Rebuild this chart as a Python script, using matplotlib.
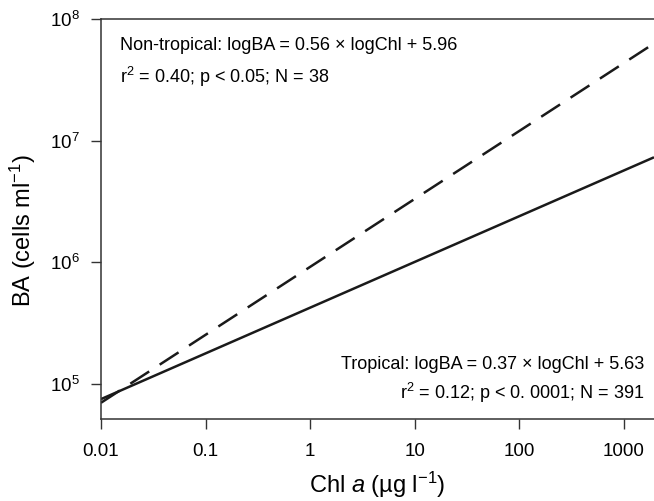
import matplotlib
matplotlib.use("Agg")
import matplotlib.pyplot as plt
from matplotlib.ticker import FixedLocator, FixedFormatter, NullLocator

plt.rcParams["font.family"] = ["Liberation Sans", "DejaVu Sans"]
plt.rcParams["mathtext.fontset"] = "custom"
plt.rcParams["mathtext.rm"] = "Liberation Sans"
plt.rcParams["mathtext.it"] = "Liberation Sans:italic"
plt.rcParams["mathtext.default"] = "regular"

# regression lines, read at the ends of the x range
chl = [0.01, 1950]
ba_tropical = [7.5e4, 7.3e6]
ba_nontropical = [7.0e4, 6.3e7]

x_ticks = [0.01, 0.1, 1, 10, 100, 1000]
x_labels = ["0.01", "0.1", "1", "10", "100", "1000"]
y_ticks = [1e5, 1e6, 1e7, 1e8]
y_labels = ["$10^{5}$", "$10^{6}$", "$10^{7}$", "$10^{8}$"]

fig = plt.figure(figsize=(6.54, 5.01), dpi=100)
ax = fig.add_axes([0.1544, 0.1637, 0.8456, 0.7983])

ax.plot(chl, ba_tropical, color="#1a1a1a", lw=1.8, solid_capstyle="butt")
ax.plot(chl, ba_nontropical, color="#1a1a1a", lw=1.8, dashes=(9, 5))

ax.set_xscale("log")
ax.set_yscale("log")
ax.set_xlim(0.01, 1950)
ax.set_ylim(5.15e4, 1e8)

ax.xaxis.set_major_locator(FixedLocator(x_ticks))
ax.xaxis.set_major_formatter(FixedFormatter(x_labels))
ax.xaxis.set_minor_locator(NullLocator())
ax.yaxis.set_major_locator(FixedLocator(y_ticks))
ax.yaxis.set_major_formatter(FixedFormatter(y_labels))
ax.yaxis.set_minor_locator(NullLocator())

ax.tick_params(axis="both", direction="out", length=7, width=1, color="#333333",
               labelsize=13.5)
ax.tick_params(axis="x", pad=10)
ax.tick_params(axis="y", pad=8)
for side in ["left", "bottom", "top"]:
    ax.spines[side].set_linewidth(1.1)
    ax.spines[side].set_color("#333333")
ax.spines["right"].set_visible(False)

ax.set_xlabel("Chl $\\mathit{a}$ (µg l$^{-1}$)", fontsize=17, labelpad=7)
ax.set_ylabel("BA (cells ml$^{-1}$)", fontsize=17)
ax.yaxis.set_label_coords(-0.113, 0.47)

ax.text(0.034, 0.935, "Non-tropical: logBA = 0.56 × logChl + 5.96", transform=ax.transAxes,
        fontsize=13, ha="left", va="center")
ax.text(0.034, 0.856, "r$^{2}$ = 0.40; p < 0.05; N = 38", transform=ax.transAxes,
        fontsize=13, ha="left", va="center")
ax.text(0.982, 0.135, "Tropical: logBA = 0.37 × logChl + 5.63", transform=ax.transAxes,
        fontsize=13, ha="right", va="center")
ax.text(0.982, 0.065, "r$^{2}$ = 0.12; p < 0. 0001; N = 391", transform=ax.transAxes,
        fontsize=13, ha="right", va="center")

fig.savefig("out.png", dpi=100)
